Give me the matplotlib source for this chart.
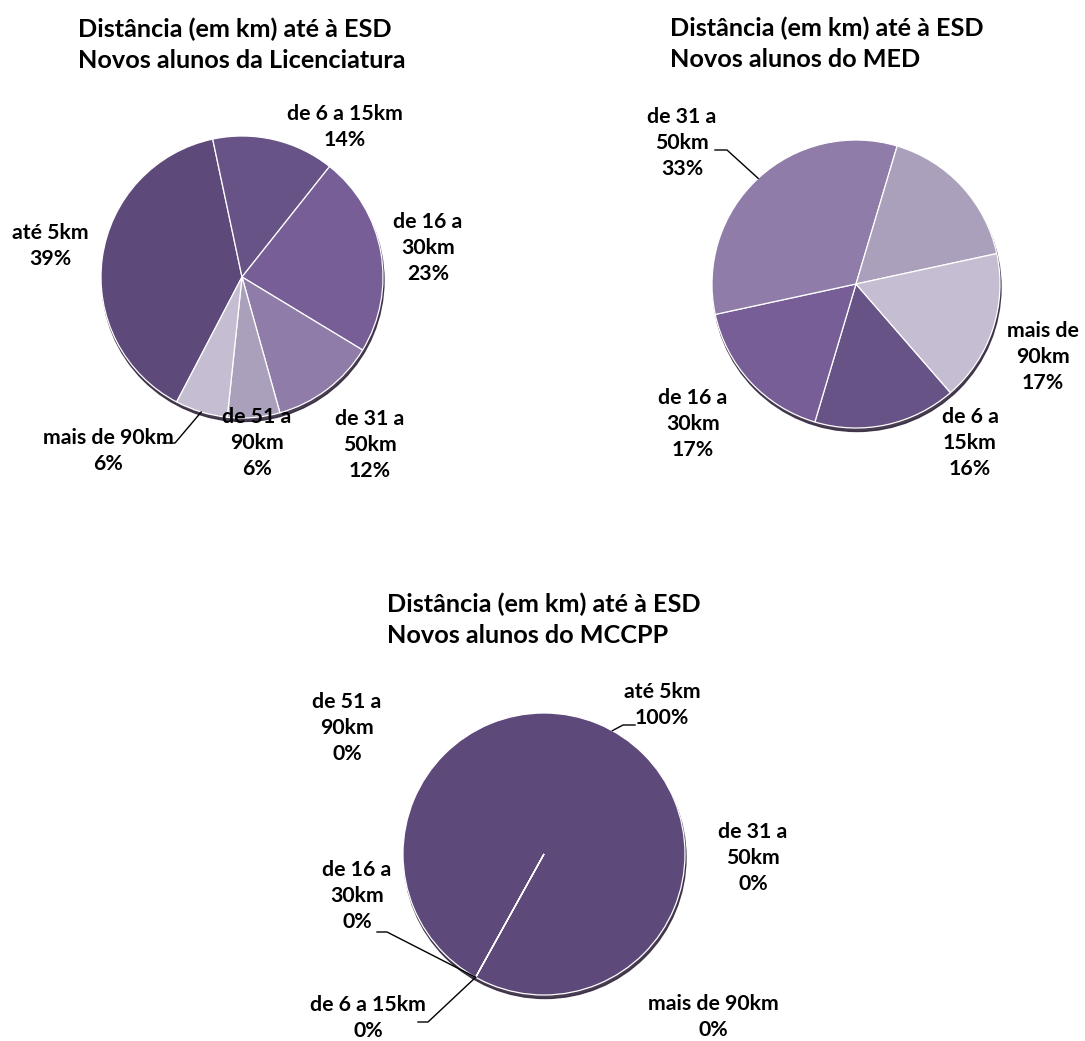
import numpy as np
import matplotlib
matplotlib.use("Agg")
import matplotlib.pyplot as plt
from matplotlib.patches import Circle

plt.rcParams['font.family'] = ['Lato', 'DejaVu Sans']

W, H = 1085, 1041

categories = ["até 5km", "de 6 a 15km", "de 16 a 30km", "de 31 a 50km",
              "de 51 a 90km", "mais de 90km"]
lic_values = [39, 14, 23, 12, 6, 6]
med_values = [0, 16, 17, 33, 17, 17]
mccpp_values = [100, 0, 0, 0, 0, 0]

titles = ["Distância (em km) até à ESD\nNovos alunos da Licenciatura",
          "Distância (em km) até à ESD\nNovos alunos do MED",
          "Distância (em km) até à ESD\nNovos alunos do MCCPP"]

colors = ["#5e4a7a", "#685387", "#775e97", "#8f7ca8", "#aaa0bb", "#c5bdd1"]

# label text as laid out in each chart (None = not shown)
lic_labels = ["até 5km", "de 6 a 15km", "de 16 a\n30km", "de 31 a\n50km",
              "de 51 a\n90km", "mais de 90km"]
med_labels = [None, "de 6 a\n15km", "de 16 a\n30km", "de 31 a\n50km",
              None, "mais de\n90km"]
mccpp_labels = ["até 5km", "de 6 a 15km", "de 16 a\n30km", "de 31 a\n50km",
                "de 51 a\n90km", "mais de 90km"]

fig = plt.figure(figsize=(W / 100, H / 100), dpi=100)
ax = fig.add_axes([0, 0, 1, 1])


def py(y):
    return H - y


def draw_pie(values, labels, center, r, start, label_pos, leaders, title, title_xy):
    cx, cy = center
    # soft drop shadow under the pie
    ax.add_patch(Circle((cx + 1, py(cy) - 3.5), r, color="#35293f", alpha=0.9, zorder=1))
    wedges, _ = ax.pie(values, colors=colors, startangle=90 - start, counterclock=False,
                       center=(cx, py(cy)), radius=r, normalize=True,
                       wedgeprops=dict(edgecolor="white", linewidth=0.9))
    for w in wedges:
        w.set_zorder(2)
    total = sum(values)
    for i, (lab, v) in enumerate(zip(labels, values)):
        if lab is None:
            continue
        pct = "{:.0f}%".format(100 * v / total)
        lx, ly = label_pos[i]
        ax.text(lx, py(ly), lab + "\n" + pct, ha="center", va="center",
                fontsize=15.3, fontweight="bold", linespacing=1.38, zorder=5)
    # leader lines from wedge edge
    acc = np.cumsum([0] + list(values)) / total * 360
    for i, pts in leaders.items():
        mid = np.deg2rad(start + (acc[i] + acc[i + 1]) / 2)
        ex, ey = cx + r * np.sin(mid), cy - r * np.cos(mid)
        xs = [ex] + [p[0] for p in pts]
        ys = [py(ey)] + [py(p[1]) for p in pts]
        ax.plot(xs, ys, color="black", lw=1.0, zorder=4)
    ax.text(title_xy[0], py(title_xy[1]), title, ha="left", va="center",
            fontsize=18.2, fontweight="bold", linespacing=1.4)


draw_pie(lic_values, lic_labels, (242, 277), 141, 207.6,
         [(50, 246), (345, 127), (428, 248), (370, 445), (257, 443), (108, 451)],
         {5: [(175, 443), (163, 443)]},
         titles[0], (78, 45))

draw_pie(med_values, med_labels, (856, 284), 144, 139,
         [None, (970, 443), (693, 424), (682, 143), None, (1043, 357)],
         {3: [(727, 150), (715, 150)]},
         titles[1], (670, 44))

draw_pie(mccpp_values, mccpp_labels, (544, 854), 141, 209,
         [(662, 705), (368, 1018), (357, 896), (753, 858), (347, 728), (713, 1017)],
         {0: [(623, 725), (635, 725)], 2: [(387, 932), (377, 932)],
          1: [(428, 1022), (418, 1022)]},
         titles[2], (387, 620))

ax.set_xlim(0, W)
ax.set_ylim(0, H)
ax.set_aspect("equal")
ax.axis("off")

fig.savefig("out.png", dpi=100, facecolor="white")
